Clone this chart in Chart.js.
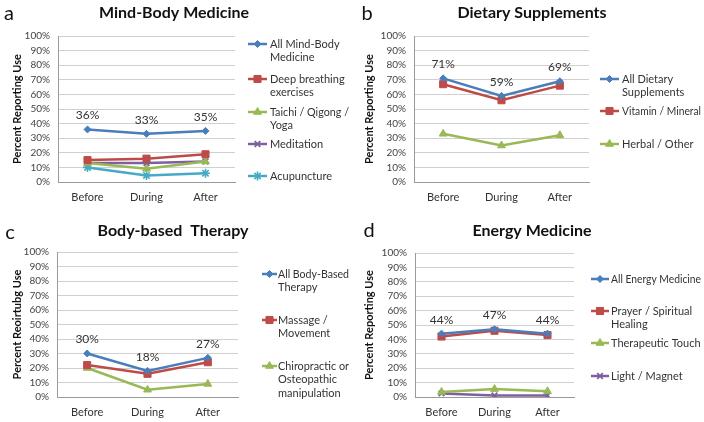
<!DOCTYPE html>
<html>
<head>
<meta charset="utf-8">
<script src="https://cdn.jsdelivr.net/npm/chart.js"></script>
<style>
  body { margin: 0; background: #fff; }
  #wrap { position: relative; width: 704px; height: 422px; }
  .panel { position: absolute; width: 352px; height: 211px; }
  .panel canvas { display: block; }
</style>
</head>
<body>
<div id="wrap">
  <div class="panel" style="left:0;top:0"><canvas id="chartA" width="352" height="211"></canvas></div>
  <div class="panel" style="left:352px;top:0"><canvas id="chartB" width="352" height="211"></canvas></div>
  <div class="panel" style="left:0;top:211px"><canvas id="chartC" width="352" height="211"></canvas></div>
  <div class="panel" style="left:352px;top:211px"><canvas id="chartD" width="352" height="211"></canvas></div>
</div>
<script>
// categories and y axis
const categories = ['Before', 'During', 'After'];
const yMin = 0, yMax = 100, yStep = 10;

// a - Mind-Body Medicine
const mindBodyAll = [36, 33, 35];
const deepBreathing = [15, 16, 19];
const taichiQigong = [13, 9, 14];
const meditation = [13, 13, 14];
const acupuncture = [10, 4.5, 6];
const legendA = [['All Mind-Body', 'Medicine'], ['Deep breathing', 'exercises'], ['Taichi / Qigong /', 'Yoga'], ['Meditation'], ['Acupuncture']];

// b - Dietary Supplements
const dietaryAll = [71, 59, 69];
const vitaminMineral = [67, 56, 66];
const herbalOther = [33, 25, 32];
const legendB = [['All Dietary', 'Supplements'], ['Vitamin / Mineral'], ['Herbal / Other']];

// c - Body-based Therapy
const bodyAll = [30, 18, 27];
const massageMovement = [22, 16, 24];
const chiropractic = [20, 5, 9];
const legendC = [['All Body-Based', 'Therapy'], ['Massage /', 'Movement'], ['Chiropractic or', 'Osteopathic', 'manipulation']];

// d - Energy Medicine
const energyAll = [44, 47, 44];
const prayerHealing = [42, 46, 43];
const therapeuticTouch = [3.5, 5.5, 4];
const lightMagnet = [2.5, 1, 1];
const legendD = [['All Energy Medicine'], ['Prayer / Spiritual', 'Healing'], ['Therapeutic Touch'], ['Light / Magnet']];

const FONT = 'Lato, "Open Sans", sans-serif';

// excel 2007 style series look
const styles = [
  { color: '#4A7EBB', pointStyle: 'rectRot', radius: 3.5, bw: 1 },
  { color: '#BE4B48', pointStyle: 'rect', radius: 5, bw: 1 },
  { color: '#98B954', pointStyle: 'triangle', radius: 4.5, bw: 1 },
  { color: '#7D60A0', pointStyle: 'crossRot', radius: 4, bw: 1.8 },
  { color: '#46AAC5', pointStyle: 'star', radius: 4.5, bw: 1.6 }
];

function drawMarker(ctx, st, x, y) {
  const opts = { pointStyle: st.pointStyle, radius: st.radius, rotation: 0, borderWidth: st.bw };
  ctx.save();
  ctx.fillStyle = st.color;
  ctx.strokeStyle = st.color;
  ctx.lineWidth = st.bw;
  Chart.helpers.drawPoint(ctx, opts, x, y);
  ctx.restore();
}

const panelDecor = {
  id: 'panelDecor',
  afterDraw(chart, args, o) {
    const ctx = chart.ctx;
    ctx.save();
    // panel letter
    ctx.fillStyle = '#111';
    ctx.font = '20px ' + FONT;
    ctx.textAlign = 'center';
    ctx.textBaseline = 'middle';
    ctx.fillText(o.letter, o.letterX, o.letterY);
    // title
    ctx.font = 'bold 16px ' + FONT;
    ctx.fillText(o.title, o.titleX, o.titleY);

    // value labels over first series
    const meta = chart.getDatasetMeta(0);
    ctx.font = '12px ' + FONT;
    ctx.fillStyle = '#333';
    meta.data.forEach((pt, i) => {
      ctx.fillText(chart.data.datasets[0].data[i] + '%', pt.x, pt.y - 14);
    });

    // legend
    ctx.font = '11px ' + FONT;
    ctx.textAlign = 'left';
    const maxW = chart.width - o.textX - 3;
    o.legend.forEach((lines, i) => {
      const st = styles[i];
      const y = o.legendY[i];
      ctx.strokeStyle = st.color;
      ctx.lineWidth = 2.5;
      ctx.beginPath();
      ctx.moveTo(o.lineX1, y);
      ctx.lineTo(o.lineX2, y);
      ctx.stroke();
      drawMarker(ctx, st, (o.lineX1 + o.lineX2) / 2, y);
      ctx.fillStyle = '#333';
      lines.forEach((t, k) => ctx.fillText(t, o.textX, y + k * 13.5, maxW));
    });
    ctx.restore();
  }
};

function makeChart(id, series, yTitle, g) {
  const W = 352, H = 211;
  new Chart(document.getElementById(id), {
    type: 'line',
    data: {
      labels: categories,
      datasets: series.map((d, i) => ({
        data: d,
        borderColor: styles[i].color,
        backgroundColor: styles[i].color,
        borderWidth: 2.5,
        pointStyle: styles[i].pointStyle,
        pointRadius: styles[i].radius,
        pointBorderWidth: styles[i].bw,
        pointBorderColor: styles[i].color,
        pointBackgroundColor: styles[i].color,
        tension: 0,
        fill: false
      }))
    },
    options: {
      responsive: false,
      animation: false,
      events: [],
      layout: {
        autoPadding: false,
        padding: { top: g.top, right: W - g.right, bottom: 0, left: 0 }
      },
      plugins: {
        legend: { display: false },
        tooltip: { enabled: false },
        panelDecor: g.decor
      },
      scales: {
        x: {
          offset: true,
          grid: { display: false, drawTicks: false },
          border: { display: true, color: '#9A9A9A', width: 1 },
          ticks: { color: '#333', font: { family: FONT, size: 11 }, padding: 9 },
          afterFit(s) { s.height = H - g.bottom; }
        },
        y: {
          min: yMin,
          max: yMax,
          ticks: {
            stepSize: yStep,
            autoSkip: false,
            color: '#444',
            font: { family: FONT, size: 10 },
            padding: 8,
            callback: v => v + '%'
          },
          grid: { color: '#D0D0D0', lineWidth: 1, drawTicks: false },
          border: { display: true, color: '#9A9A9A', width: 1 },
          title: {
            display: true,
            text: yTitle,
            color: '#111',
            font: { family: FONT, size: 11, weight: 'bold' },
            padding: { top: 11, bottom: 0 }
          },
          afterFit(s) { s.width = g.left; }
        }
      }
    },
    plugins: [panelDecor]
  });
}

makeChart('chartA', [mindBodyAll, deepBreathing, taichiQigong, meditation, acupuncture], 'Percent Reporting Use', {
  left: 58, right: 235, top: 36, bottom: 182,
  decor: { letter: 'a', letterX: 9, letterY: 14, title: 'Mind-Body Medicine', titleX: 174, titleY: 13,
    legend: legendA, legendY: [44, 79, 112, 144, 176], lineX1: 248, lineX2: 267, textX: 270 }
});

makeChart('chartB', [dietaryAll, vitaminMineral, herbalOther], 'Percent Reporting Use', {
  left: 62, right: 237, top: 36, bottom: 182,
  decor: { letter: 'b', letterX: 15, letterY: 14, title: 'Dietary Supplements', titleX: 180, titleY: 13,
    legend: legendB, legendY: [79, 111, 144], lineX1: 248, lineX2: 267, textX: 270 }
});

makeChart('chartC', [bodyAll, massageMovement, chiropractic], 'Percent Reoirtubg Use', {
  left: 57, right: 238, top: 41, bottom: 186,
  decor: { letter: 'c', letterX: 10, letterY: 22, title: 'Body-based  Therapy', titleX: 173, titleY: 20,
    legend: legendC, legendY: [63, 109, 155], lineX1: 262, lineX2: 277, textX: 278 }
});

makeChart('chartD', [energyAll, prayerHealing, therapeuticTouch, lightMagnet], 'Percent Reporting Use', {
  left: 63, right: 222, top: 42, bottom: 186,
  decor: { letter: 'd', letterX: 17, letterY: 20, title: 'Energy Medicine', titleX: 180, titleY: 20,
    legend: legendD, legendY: [68, 100, 132, 165], lineX1: 239, lineX2: 257, textX: 259 }
});
</script>
</body>
</html>
